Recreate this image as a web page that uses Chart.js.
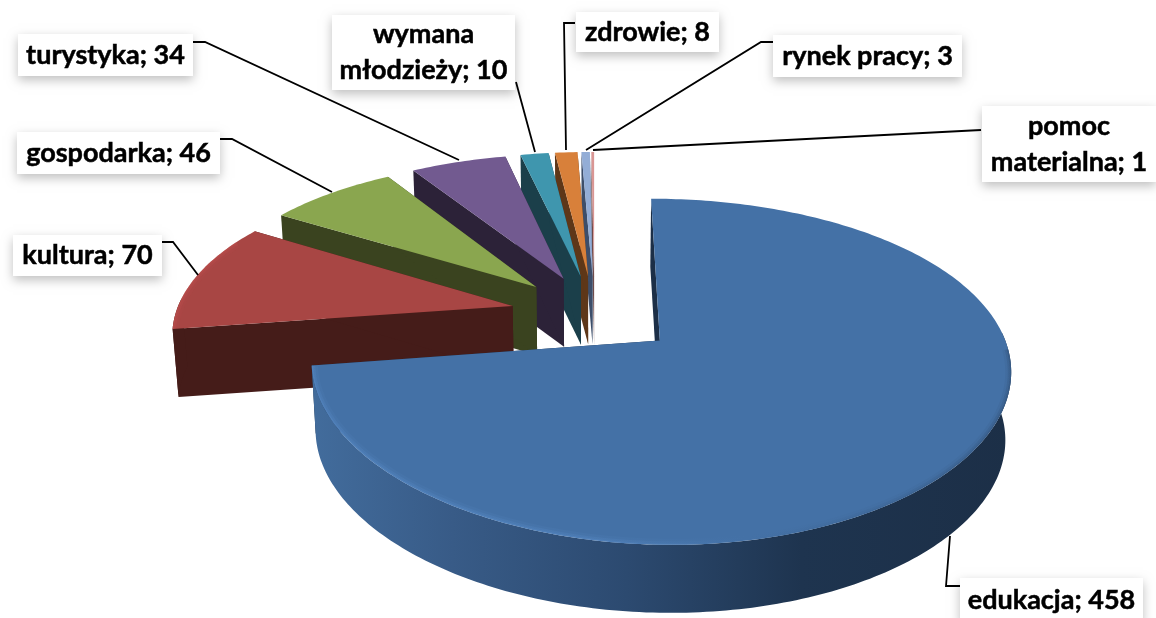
<!DOCTYPE html>
<html>
<head>
<meta charset="utf-8">
<style>
  html, body { margin: 0; padding: 0; background: #fff; }
  canvas { display: block; }
</style>
<script src="https://cdn.jsdelivr.net/npm/chart.js@4"></script>
</head>
<body>
<canvas id="chart-pie" width="1156" height="618"></canvas>
<script>
const categories = ["edukacja", "kultura", "gospodarka", "turystyka", "wymiana młodzieży", "zdrowie", "rynek pracy", "pomoc materialna"];
const values = [458, 70, 46, 34, 10, 8, 3, 1];
const topColors = ["#4471a6", "#a84644", "#8aa64f", "#725a90", "#3f96ae", "#d8803a", "#93add6", "#d99694"];
const sideColors = ["#1c2f47", "#451c19", "#3a431f", "#2c2238", "#1b3f4a", "#5e3718", "#3d4e6a", "#6e4a4a"];
const rimColors = ["#5c8fcc", "#c4524f", "#a3c25f", "#8a6fae", "#50b0cc", "#f09a4c", "#a9c2ea", "#eeb0ae"];

// text of the boxes, as it is broken in the picture
const labelLines = [["edukacja; 458"], ["kultura; 70"], ["gospodarka; 46"], ["turystyka; 34"], ["wymana", "młodzieży; 10"], ["zdrowie; 8"], ["rynek pracy; 3"], ["pomoc", "materialna; 1"]];
// x, y, w, h
const labelBoxes = [[960, 578, 183, 44], [13, 235, 149, 41], [17, 132, 203, 42], [18, 34, 175, 42], [332, 15, 183, 75], [576, 12, 143, 40], [773, 35, 189, 42], [982, 106, 174, 76]];
// leader lines from the box to the slice
const leaderPoints = [
  [[960, 586], [946, 586], [950, 536]],
  [[162, 242], [173, 242], [198, 275]],
  [[220, 139], [232, 139], [332, 192]],
  [[193, 42], [205, 42], [459, 160]],
  [[516, 82], [535, 152]],
  [[575, 23], [564, 23], [566, 150]],
  [[773, 42], [761, 42], [586, 150]],
  [[981, 130], [593, 150]]
];

const CX = 594.5, CY = 314, RX = 337, RY = 158, PERSP = 0.175, PERSP_X = 0.15, DEPTH = 68, SHRINK = 0.014, EXPLODE = 0.25;

function project(u, v, z) {
  return {
    x: CX + RX * u / (1 - PERSP_X * v) * (1 - SHRINK * z),
    y: CY + RY * v / (1 - PERSP * v) + DEPTH * z
  };
}

function slicePoint(arc, angle, r, z) {
  const mid = (arc.startAngle + arc.endAngle) / 2;
  return project(EXPLODE * Math.cos(mid) + r * Math.cos(angle), EXPLODE * Math.sin(mid) + r * Math.sin(angle), z);
}

function poly(ctx, pts) {
  ctx.beginPath();
  pts.forEach((p, i) => i ? ctx.lineTo(p.x, p.y) : ctx.moveTo(p.x, p.y));
  ctx.closePath();
}

function arcPoints(arc, from, to, z) {
  const n = Math.max(2, Math.ceil(Math.abs(to - from) * 60));
  const pts = [];
  for (let i = 0; i <= n; i++) pts.push(slicePoint(arc, from + (to - from) * i / n, 1, z));
  return pts;
}

function drawSlice(ctx, arc, i) {
  const a0 = arc.startAngle, a1 = arc.endAngle;
  const side = sideColors[i];
  // radial walls
  [a0, a1].forEach(a => {
    const p = slicePoint(arc, a, 0, 0), q = slicePoint(arc, a, 1, 0), r = slicePoint(arc, a, 1, 1), t = slicePoint(arc, a, 0, 1);
    poly(ctx, [p, q, r, t]);
    ctx.fillStyle = side;
    ctx.fill();
  });
  // outer wall, only the part turned to the viewer
  const from = Math.max(a0, -0.05), to = Math.min(a1, Math.PI + 0.05);
  if (to > from) {
    poly(ctx, arcPoints(arc, from, to, 0).concat(arcPoints(arc, to, from, 1)));
    if (i === 0) {
      const g = ctx.createLinearGradient(313, 0, 1011, 0);
      g.addColorStop(0, "#426c9c");
      g.addColorStop(0.2, "#385b87");
      g.addColorStop(0.45, "#2c4a70");
      g.addColorStop(0.7, "#1e344f");
      g.addColorStop(1, "#1c2f47");
      ctx.fillStyle = g;
    } else {
      ctx.fillStyle = side;
    }
    ctx.fill();
  }
  // top face
  const apex = slicePoint(arc, a0, 0, 0);
  poly(ctx, [apex].concat(arcPoints(arc, a0, a1, 0)));
  ctx.fillStyle = arc.options.backgroundColor;
  ctx.fill();
  // soft bevel along the front rim
  if (to <= from) return;
  ctx.save();
  ctx.clip();
  const rim = arcPoints(arc, Math.max(a0, 0.05), Math.min(a1, 3.6), 0);
  const g = ctx.createLinearGradient(313, 0, 1011, 0);
  g.addColorStop(0, rimColors[i]);
  g.addColorStop(0.4, rimColors[i]);
  g.addColorStop(0.62, "#4471a6");
  g.addColorStop(0.85, "#365a85");
  g.addColorStop(1, "#2a4567");
  ctx.lineJoin = "round";
  [[12, 0.1], [7, 0.2], [3, 0.3]].forEach(([w, alpha]) => {
    ctx.beginPath();
    rim.forEach((p, k) => k ? ctx.lineTo(p.x, p.y) : ctx.moveTo(p.x, p.y));
    ctx.lineWidth = w;
    ctx.globalAlpha = alpha;
    ctx.strokeStyle = i === 0 ? g : rimColors[i];
    ctx.stroke();
  });
  ctx.restore();
}

function drawLeader(ctx, i) {
  ctx.beginPath();
  leaderPoints[i].forEach((p, k) => k ? ctx.lineTo(p[0], p[1]) : ctx.moveTo(p[0], p[1]));
  ctx.lineWidth = 1.8;
  ctx.strokeStyle = "#000";
  ctx.stroke();
}

function drawLabel(ctx, i) {
  const [x, y, w, h] = labelBoxes[i];
  ctx.save();
  ctx.shadowColor = "rgba(0,0,0,0.25)";
  ctx.shadowBlur = 10;
  ctx.shadowOffsetY = 4;
  ctx.fillStyle = "#fff";
  ctx.fillRect(x, y, w, h);
  ctx.restore();
  ctx.fillStyle = "#000";
  ctx.strokeStyle = "#000";
  ctx.lineWidth = 0.5;
  ctx.font = "bold 27px Lato";
  ctx.textAlign = "center";
  ctx.textBaseline = "middle";
  const lines = labelLines[i];
  const lh = 36;
  lines.forEach((t, k) => {
    const ty = y + h / 2 + (k - (lines.length - 1) / 2) * lh;
    ctx.fillText(t, x + w / 2, ty);
    ctx.strokeText(t, x + w / 2, ty);
  });
}

const pie3d = {
  id: "pie3d",
  // the flat arcs are replaced by the projected ones in afterDraw
  beforeDatasetDraw() { return false; },
  afterDraw(chart) {
    const ctx = chart.ctx;
    const arcs = chart.getDatasetMeta(0).data;
    ctx.save();
    for (let i = arcs.length - 1; i >= 0; i--) drawSlice(ctx, arcs[i], i);
    arcs.forEach((arc, i) => drawLeader(ctx, i));
    arcs.forEach((arc, i) => drawLabel(ctx, i));
    ctx.restore();
  }
};

new Chart(document.getElementById("chart-pie").getContext("2d"), {
  type: "pie",
  data: {
    labels: categories,
    datasets: [{ data: values, backgroundColor: topColors, borderWidth: 0 }]
  },
  options: {
    responsive: false,
    animation: false,
    rotation: 0,
    plugins: { legend: { display: false }, tooltip: { enabled: false } }
  },
  plugins: [pie3d]
});
</script>
</body>
</html>
